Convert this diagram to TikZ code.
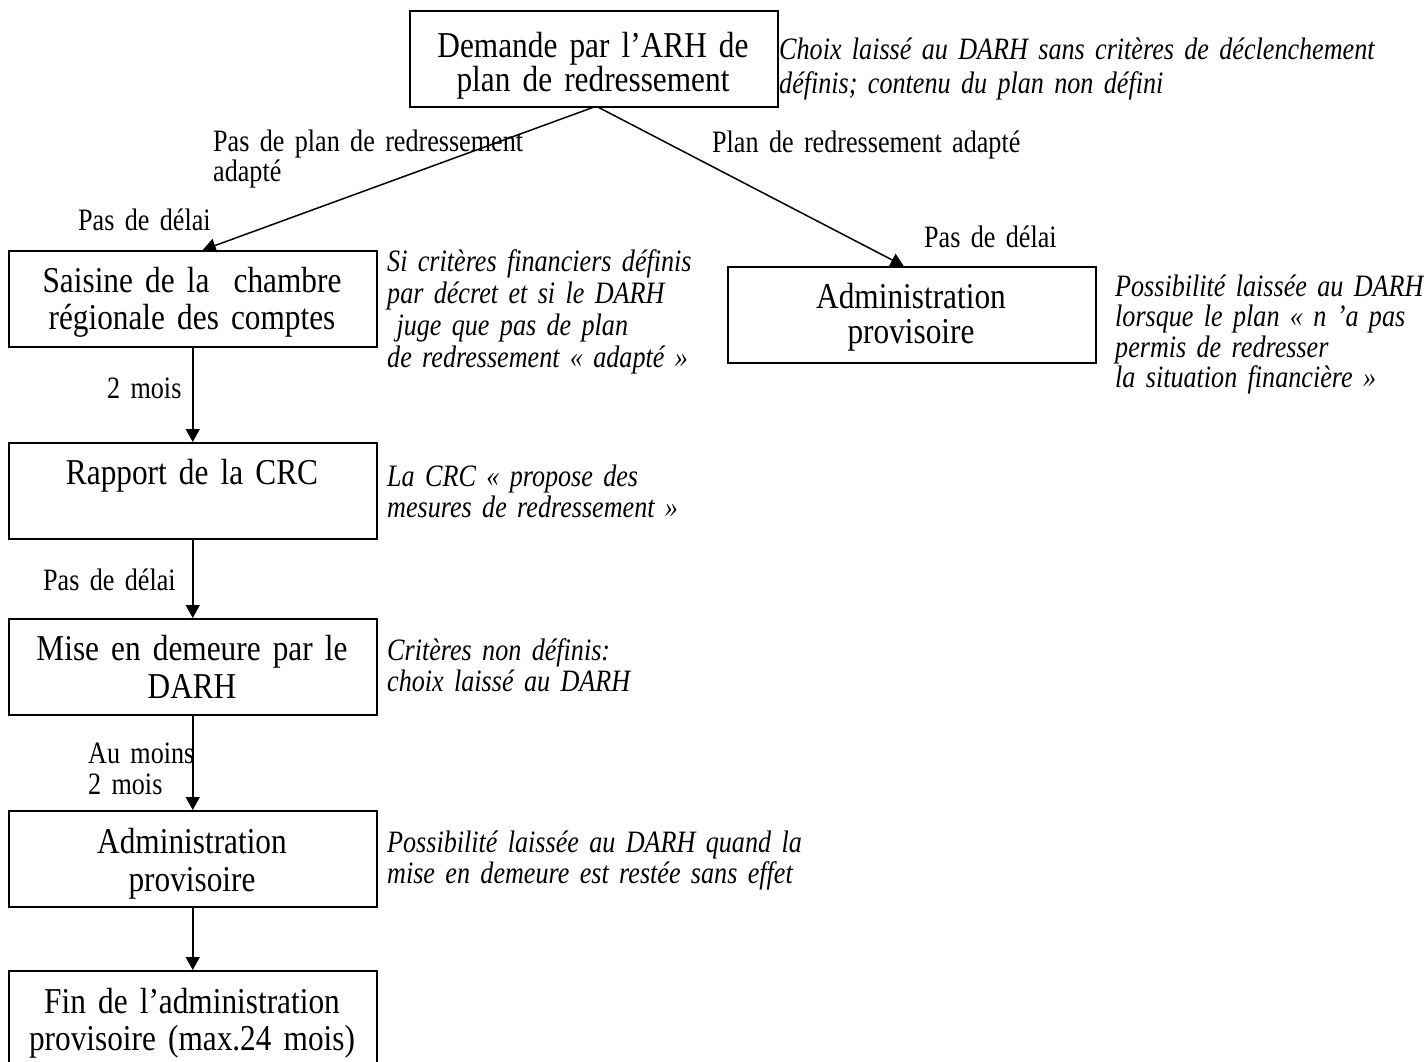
\documentclass[tikz,border=0pt]{standalone}
\usepackage{fontspec}
\setmainfont[FakeStretch=0.86,WordSpace=0.75]{Liberation Serif}
\newfontfamily\smallserif[FakeStretch=0.84,WordSpace=0.7]{Liberation Serif}
\usetikzlibrary{arrows.meta}
\tikzset{
  box/.style={draw, line width=1.5pt, minimum width=368pt, minimum height=96pt, inner sep=0pt, anchor=north west},
  boxtext/.style={anchor=base, text width=368pt, align=center, inner sep=0pt, font=\fontsize{36.4}{#1}\selectfont},
  boxtext/.default=36,
  lbl/.style={anchor=base west, text width=400pt, align=left, inner sep=0pt, font=\smallserif\fontsize{31.1}{#1}\selectfont},
  lbl/.default=31,
  note/.style={anchor=base west, text width=640pt, align=left, inner sep=0pt, font=\smallserif\fontsize{31.1}{#1}\selectfont\itshape},
  note/.default=30.7,
  conn/.style={line width=1.5pt, -{Triangle[length=13pt,width=14pt]}},
}
\begin{document}
\begin{tikzpicture}[x=1pt,y=-1pt]
\useasboundingbox (0,0) rectangle (1424,1061);
\fill[white] (0,0) rectangle (1424,1061);

% boxes
\node[box] (top) at (409,10) {};
\node[box] (saisine) at (8,250) {};
\node[box] (adminR) at (727,266) {};
\node[box] (rapport) at (8,442) {};
\node[box] (mise) at (8,618) {};
\node[box] (adminL) at (8,810) {};
\node[box] (fin) at (8,970) {};

% box texts
\node[boxtext=32] (topT) at (593,57) {Demande par l’ARH de\\plan de redressement};
\node[boxtext=37] (saisineT) at (192,292) {Saisine de la\ \ chambre\\régionale des comptes};
\node[boxtext=35] (adminRT) at (911,308) {Administration\\provisoire};
\node[boxtext] (rapportT) at (192,484) {Rapport de la CRC};
\node[boxtext=38] (miseT) at (192,660) {Mise en demeure par le\\DARH};
\node[boxtext=38] (adminLT) at (192,853) {Administration\\provisoire};
\node[boxtext=37] (finT) at (192,1013) {Fin de l’administration\\provisoire (max.24 mois)};

% annotations
\node[note=34] (nTop) at (779,59) {Choix laissé au DARH sans critères de déclenchement\\définis; contenu du plan non défini};
\node[note=32] (nSai) at (387,271) {Si critères financiers définis\\par décret et si le DARH\\\hspace*{0.3em}juge que pas de plan\\de redressement « adapté »};
\node[note=30.5] (nAdmR) at (1115,296) {Possibilité laissée au DARH\\lorsque le plan « n ’a pas\\permis de redresser\\la situation financière »};
\node[note=31] (nRap) at (387,486) {La CRC « propose des\\mesures de redressement »};
\node[note=31] (nMise) at (387,660) {Critères non définis:\\choix laissé au DARH};
\node[note=31] (nAdmL) at (387,852) {Possibilité laissée au DARH quand la\\mise en demeure est restée sans effet};

% connector labels
\node[lbl=30] (lblA) at (213,151) {Pas de plan de redressement\\adapté};
\node[lbl] (lblB) at (78,230) {Pas de délai};
\node[lbl] (lblC) at (712,152) {Plan de redressement adapté};
\node[lbl] (lblD) at (924,247) {Pas de délai};
\node[lbl] (lblE) at (107,398) {2 mois};
\node[lbl] (lblF) at (43,590) {Pas de délai};
\node[lbl] (lblG) at (88,763) {Au moins\\2 mois};

% connectors
\draw[conn] ([xshift=-1pt]top.south) -- ([xshift=10pt]saisine.north);
\draw[conn] ([xshift=5pt]top.south) -- ([xshift=-8pt]adminR.north);
\draw[conn] (saisine.south) -- (rapport.north);
\draw[conn] (rapport.south) -- (mise.north);
\draw[conn] (mise.south) -- (adminL.north);
\draw[conn] (adminL.south) -- (fin.north);
\end{tikzpicture}
\end{document}
